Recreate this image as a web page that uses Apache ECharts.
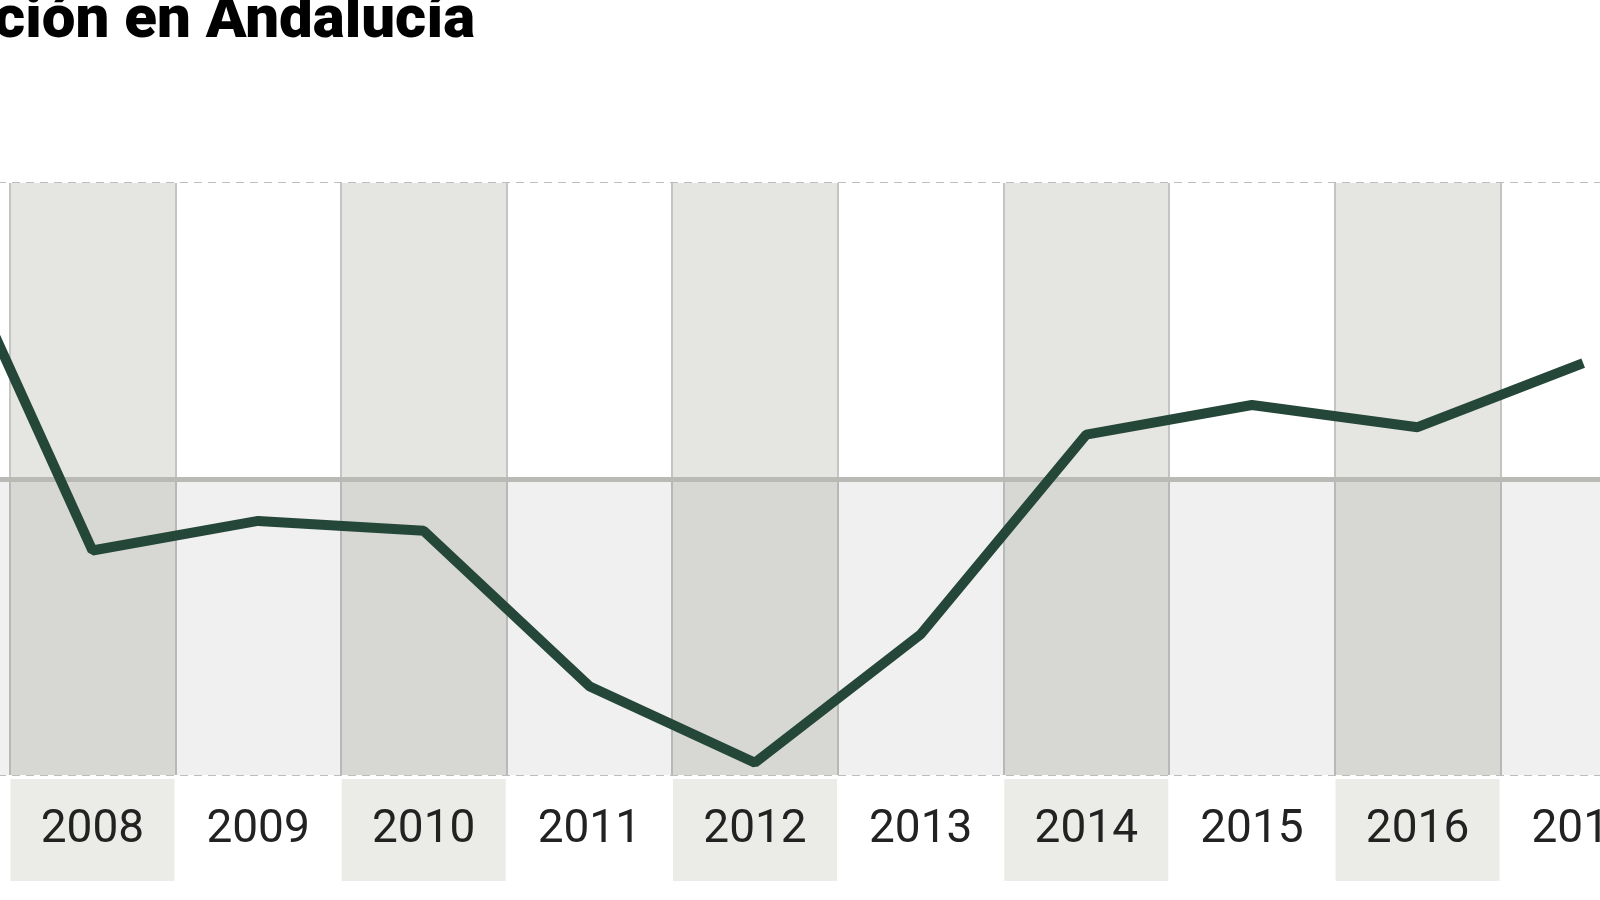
<!DOCTYPE html><html><head><meta charset="utf-8"><script src="https://cdn.jsdelivr.net/npm/echarts@6/dist/echarts.min.js"></script>
<style>html,body{margin:0;background:#fff;overflow:hidden;width:1600px;height:900px}#c{position:absolute;left:-158px;top:0;width:1826px;height:900px}</style></head><body><div id="c"></div><script>
const categories=['2007','2008','2009','2010','2011','2012','2013','2014','2015','2016','2017'];
const values=[11.9,-2.9,-1.7,-2.1,-8.4,-11.5,-6.3,1.8,3,2.1,4.7];
const labelTexts=['','-2,9','-1,7','-2,1','-8,4','-11,5','-6,3','1,8','3','2,1','4,7'];
const labelOffsets=[[0,0],[-12,103],[0,-42],[0,-42],[-8,-64],[0,-72],[-10,-90],[-15,-32],[0,-35],[-5,-44],[-15,-37]];
const chart=echarts.init(document.getElementById('c'));
chart.setOption({
 animation:false,
 graphic:[{type:'text',left:152,top:-8,style:{text:'ción en Andalucía',font:'900 60px Roboto, sans-serif',fill:'#000'}}],
 grid:{left:0,top:183,width:1826,height:592},
 xAxis:{type:'category',data:categories,boundaryGap:true,
  axisLine:{show:false},axisTick:{show:false},
  splitArea:{show:true,interval:0,areaStyle:{color:['#ffffff','#e5e6e1']}},
  splitLine:{show:true,interval:0,lineStyle:{color:'#c4c4c4',width:2}},
  axisLabel:{interval:0,margin:4,align:'center',formatter:(v,i)=>(i%2===1?'{a|'+v+'}':'{b|'+v+'}'),
   rich:{a:{backgroundColor:'#ebebe7',width:164,height:102,lineHeight:102,align:'center',fontSize:46,fontFamily:'Roboto',color:'#222'},
         b:{backgroundColor:'#fff',width:164,height:102,lineHeight:102,align:'center',fontSize:46,fontFamily:'Roboto',color:'#222'}}}},
 yAxis:{type:'value',min:-12,max:12,interval:2,axisLabel:{show:false},axisLine:{show:false},axisTick:{show:false},
  splitLine:{lineStyle:{color:'#bdbdbd',type:[8,6],width:2}}},
 series:[
  {type:'line',data:values.map((v,i)=>({value:v,label:{show:i>0,formatter:labelTexts[i],offset:labelOffsets[i]}})),
   symbol:'none',lineStyle:{color:'#25473a',width:10},z:5,
   label:{show:true,position:'top',fontSize:46,fontWeight:'bold',fontFamily:'Roboto',color:'#111'},
   markLine:{silent:true,symbol:'none',label:{show:false},lineStyle:{color:'#b9b9b6',width:5,type:'solid'},data:[{yAxis:0}]}},
  {type:'line',data:[],markArea:{silent:true,data:[[{yAxis:0,itemStyle:{color:'rgba(0,0,0,0.06)'}},{yAxis:-12}]]}}
 ]
});
</script></body></html>
